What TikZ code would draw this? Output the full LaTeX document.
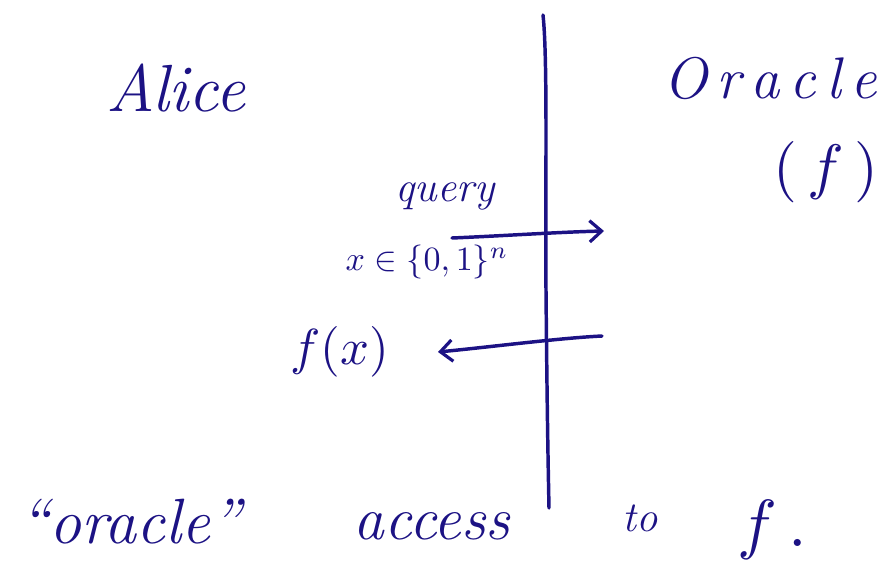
\documentclass[tikz,border=0pt]{standalone}
\usepackage{graphicx}
\usepackage{amssymb}
\usetikzlibrary{arrows.meta}
\definecolor{ink}{RGB}{28,18,132}
\tikzset{
  pen/.style={draw=ink, line width=2.6pt, line cap=round, line join=round},
  word/.style={text=ink, inner sep=0pt, anchor=center},
  barb/.style={-{Straight Barb[length=9pt,width=16pt,line width=2.4pt]}}
}
% math set at a large size by scaling a normal-size formula
\newcommand{\bigmath}[2]{\scalebox{#1}{$#2$}}
\begin{document}
\begin{tikzpicture}[x=0.75pt,y=-0.75pt]
\useasboundingbox (0,0) rectangle (879,568);

% parties
\node[word, font=\fontsize{50}{54}\selectfont\itshape] (alice) at (176,88) {Alice};
\node[word, font=\fontsize{44}{48}\selectfont\itshape] (oracle) at (770,78) {O\,r\,a\,c\,l\,e};
\node[word] (fbox) at (826,172) {\bigmath{4.6}{(\,f\,)}};

% dividing line
\coordinate (top) at (543,15);
\coordinate (mid) at (546,290);
\coordinate (bot) at (549,508);
\draw[pen] (top) .. controls (548,60) and (545,200) .. (mid)
                 .. controls (547,400) and (548,460) .. (bot);

% query
\node[word, font=\fontsize{32}{36}\selectfont\itshape] (query) at (445,196) {query};
\node[word] (dom) at (427,262) {\bigmath{2.55}{x\in\{0,1\}^n}};
\coordinate (qs) at (452,238);
\coordinate (qe) at (604,231);
\draw[pen, barb] (qs) .. controls (500,236) and (560,232) .. (qe);

% answer
\node[word] (fx) at (340,352) {\bigmath{3.8}{f(x)}};
\coordinate (as) at (602,336);
\coordinate (ae) at (438,352);
\draw[pen, barb] (as) .. controls (560,338) and (490,347) .. (ae);

% caption
\node[word, font=\fontsize{48}{52}\selectfont\itshape] (c1) at (130,522) {``oracle''};
\node[word, font=\fontsize{46}{50}\selectfont\itshape] (c2) at (432,526) {access};
\node[word, font=\fontsize{32}{36}\selectfont\itshape] (c3) at (640,518) {to};
\node[word] (c4) at (772,530) {\bigmath{5}{f\,.}};
\end{tikzpicture}
\end{document}
